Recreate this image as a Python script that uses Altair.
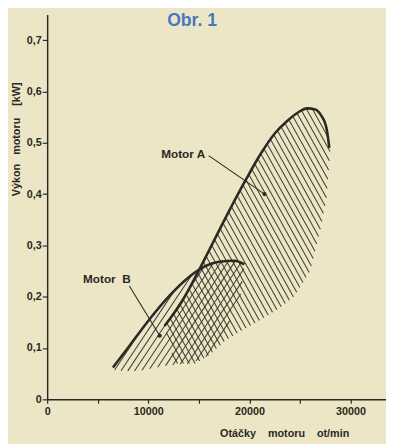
import altair as alt
import pandas as pd
import numpy as np

# ---- data ----
# Motor A: power curve (upper boundary of hatched area)
a_x = [11600, 13300, 14700, 16000, 17800, 19700, 21100, 22500, 23700, 24800, 25700, 26500, 27100, 27600, 27900]
a_y = [0.143, 0.19, 0.24, 0.29, 0.36, 0.43, 0.478, 0.518, 0.542, 0.559, 0.567, 0.565, 0.553, 0.53, 0.49]
# Motor A: lower edge of hatched area (right to left)
a_low_x = [28000, 27600, 27000, 26000, 24400, 22900, 21000, 19300, 17600, 16200, 14700, 12600]
a_low_y = [0.49, 0.39, 0.33, 0.25, 0.20, 0.177, 0.154, 0.135, 0.114, 0.089, 0.07, 0.07]
# Motor B: power curve
b_x = [6500, 8200, 10200, 12100, 14000, 15500, 17000, 18500, 19500]
b_y = [0.062, 0.106, 0.158, 0.202, 0.238, 0.258, 0.268, 0.270, 0.263]
# Motor B: lower edge of hatched area (right to left)
b_low_x = [19100, 18100, 17100, 15900, 14200, 11800, 8900, 6700]
b_low_y = [0.20, 0.155, 0.115, 0.085, 0.07, 0.066, 0.055, 0.056]

NB = "\u00a0"
# labels and leader lines
lab_text = ["Motor A", "Motor" + NB + NB + "B"]
lab_x = [13450, 5900]
lab_y = [0.478, 0.234]
lead_x = [15970, 8130]
lead_y = [0.475, 0.221]
dot_x = [21490, 11130]
dot_y = [0.400, 0.124]

x_ticks = [0, 5000, 10000, 15000, 20000, 25000, 30000]
y_ticks = [0, 0.1, 0.2, 0.3, 0.4, 0.5, 0.6, 0.7]
x_title = "Otáčky" + NB * 4 + "motoru" + NB * 4 + "ot/min"
y_title = "Výkon" + NB * 3 + "motoru" + NB * 4 + "[kW]"

X_MAX, Y_MAX = 33500, 0.75
W, H = 346, 393
INK = "#2a2923"
PAPER = "#ede6c6"
FONT = "Liberation Sans"

SX, SY = W / X_MAX, H / Y_MAX


def hatch(px, py, slope, spacing_h, group):
    u = np.array(px, float) * SX
    v = np.array(py, float) * SY
    d = np.array([1.0, slope])
    d /= np.linalg.norm(d)
    n = np.array([-d[1], d[0]])
    pn = n[0] * u + n[1] * v
    step = spacing_h * abs(n[0])
    rows = []
    m = len(u)
    c = pn.min() + step / 2
    while c < pn.max():
        pts = []
        for i in range(m):
            j = (i + 1) % m
            f1, f2 = pn[i] - c, pn[j] - c
            if f1 * f2 < 0:
                t = f1 / (f1 - f2)
                uu = u[i] + t * (u[j] - u[i])
                vv = v[i] + t * (v[j] - v[i])
                pts.append((d[0] * uu + d[1] * vv, uu, vv))
        pts.sort()
        for k in range(0, len(pts) - 1, 2):
            rows.append({"x": pts[k][1] / SX, "y": pts[k][2] / SY,
                         "x2": pts[k + 1][1] / SX, "y2": pts[k + 1][2] / SY, "g": group})
        c += step
    return rows


seg = pd.DataFrame(
    hatch(a_x + a_low_x, a_y + a_low_y, -1.8, 6.0, "A")
    + hatch(b_x + b_low_x, b_y + b_low_y, 1.5, 7.0, "B")
)

curves = pd.DataFrame(
    [{"x": x, "y": y, "motor": "A", "i": i} for i, (x, y) in enumerate(zip(a_x, a_y))]
    + [{"x": x, "y": y, "motor": "B", "i": i} for i, (x, y) in enumerate(zip(b_x, b_y))]
)
ann_lead = pd.DataFrame({"x": lead_x, "y": lead_y, "x2": dot_x, "y2": dot_y})
ann_dot = pd.DataFrame({"x": dot_x, "y": dot_y})
ann_txt = pd.DataFrame({"x": lab_x, "y": lab_y, "t": lab_text})

xs = alt.Scale(domain=[0, X_MAX], nice=False, zero=True)
ys = alt.Scale(domain=[0, Y_MAX], nice=False, zero=True)

x_axis = alt.Axis(
    values=x_ticks, labelExpr="datum.value % 10000 == 0 ? format(datum.value, 'd') : ''",
    grid=False, tickSize=4, tickColor=INK, domainColor=INK, domainWidth=1.5, tickWidth=1.2,
    labelFont=FONT, labelFontWeight="bold", labelFontSize=11, labelColor=INK, labelPadding=3,
    labelFlush=False, title=x_title, titleFont=FONT, titleFontWeight="bold",
    titleFontSize=11, titleColor=INK, titleX=242, titleY=35, titleBaseline="middle", titleAlign="center",
)
y_axis = alt.Axis(
    values=y_ticks,
    labelExpr="datum.value == 0 ? '0' : replace(format(datum.value, '.1f'), '.', ',')",
    grid=False, tickSize=5, tickColor=INK, domainColor=INK, domainWidth=1.5, tickWidth=1.2,
    labelFont=FONT, labelFontWeight="bold", labelFontSize=11, labelColor=INK, labelPadding=1,
    labelFlush=False, title=y_title, titleFont=FONT, titleFontWeight="bold",
    titleFontSize=11, titleColor=INK, titleX=-31, titleY=127, titleBaseline="middle",
    titleAlign="center", titleAngle=270,
)

X = alt.X("x:Q", scale=xs, axis=x_axis)
Y = alt.Y("y:Q", scale=ys, axis=y_axis)

hatch_layer = alt.Chart(seg).mark_rule(color="#2f2e26", strokeWidth=1.05, opacity=0.9).encode(
    x=X, y=Y, x2="x2:Q", y2="y2:Q",
)

curve_layer = alt.Chart(curves).mark_line(color=INK, strokeWidth=2.6, interpolate="monotone").encode(
    x=X, y=Y, detail="motor:N", order="i:Q",
)

lead_layer = alt.Chart(ann_lead).mark_rule(color=INK, strokeWidth=1.1).encode(
    x=X, y=Y, x2="x2:Q", y2="y2:Q",
)
dot_layer = alt.Chart(ann_dot).mark_circle(color=INK, size=18, opacity=1).encode(x=X, y=Y)
text_layer = alt.Chart(ann_txt).mark_text(font=FONT, fontWeight="bold", fontSize=12, color=INK).encode(
    x=X, y=Y, text="t:N",
)
title_layer = alt.Chart(pd.DataFrame({"t": ["Obr. 1"]})).mark_text(
    font=FONT, fontWeight="bold", fontSize=18, color="#4a76bd"
).encode(x=alt.value(148), y=alt.value(7), text="t:N")

chart = alt.layer(hatch_layer, curve_layer, lead_layer, dot_layer, text_layer, title_layer).properties(
    width=W, height=H,
    autosize=alt.AutoSizeParams(type="none"),
    padding={"left": 40, "top": 2, "right": 0, "bottom": 41},
    background=PAPER,
).configure_view(stroke=None)

chart.save("out.html", embed_options={"renderer": "svg", "actions": False})
